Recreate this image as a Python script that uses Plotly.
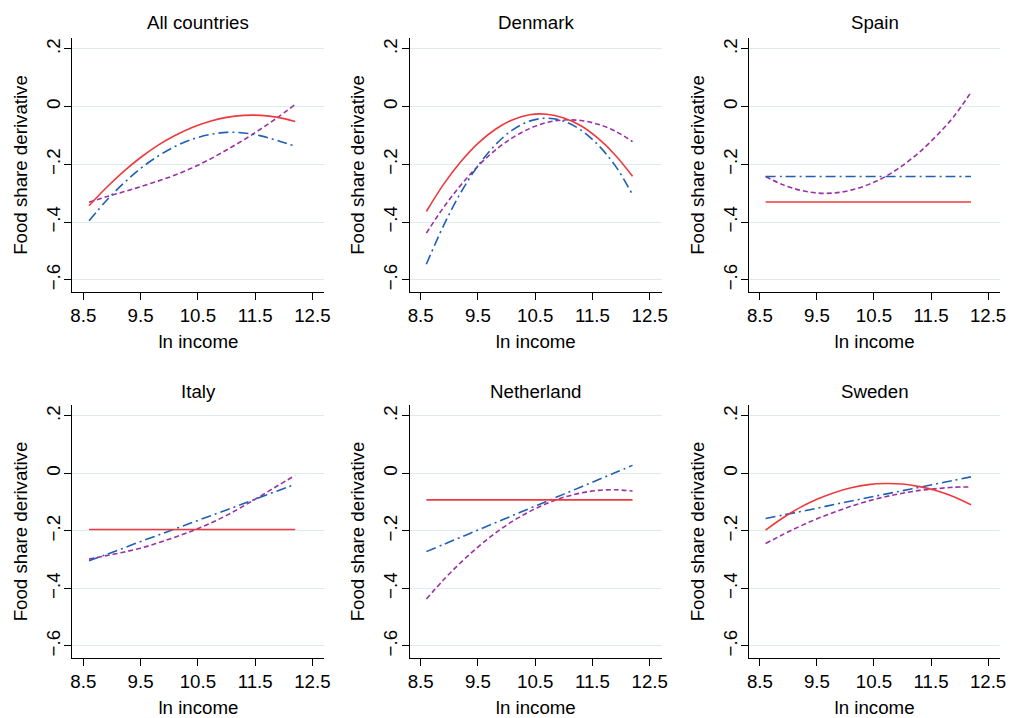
import plotly.graph_objects as go

# ---------------- data ----------------
income = [8.6, 8.9, 9.2, 9.5, 9.8, 10.1, 10.4, 10.7, 11.0, 11.3, 11.6, 11.9, 12.2]

countries = ["All countries", "Denmark", "Spain", "Italy", "Netherland", "Sweden"]

all_red = [-0.343, -0.281, -0.225, -0.176, -0.134, -0.100, -0.072, -0.051, -0.037, -0.030, -0.030, -0.037, -0.051]
all_blue = [-0.395, -0.326, -0.266, -0.214, -0.172, -0.138, -0.113, -0.097, -0.089, -0.091, -0.101, -0.118, -0.137]
all_purple = [-0.331, -0.312, -0.295, -0.277, -0.258, -0.237, -0.212, -0.183, -0.150, -0.115, -0.077, -0.036, 0.008]

den_red = [-0.363, -0.269, -0.191, -0.127, -0.079, -0.046, -0.028, -0.026, -0.039, -0.066, -0.110, -0.168, -0.241]
den_blue = [-0.546, -0.412, -0.298, -0.205, -0.133, -0.081, -0.050, -0.040, -0.050, -0.081, -0.133, -0.205, -0.305]
den_purple = [-0.438, -0.349, -0.272, -0.206, -0.151, -0.108, -0.076, -0.055, -0.046, -0.048, -0.061, -0.085, -0.121]

spa_red = [-0.330] * 13
spa_blue = [-0.242] * 13
spa_purple = [-0.242, -0.270, -0.289, -0.299, -0.299, -0.289, -0.270, -0.242, -0.204, -0.157, -0.100, -0.034, 0.050]

ita_red = [-0.195] * 13
ita_blue = [-0.304, -0.282, -0.260, -0.237, -0.215, -0.193, -0.171, -0.149, -0.127, -0.105, -0.082, -0.060, -0.038]
ita_purple = [-0.298, -0.286, -0.274, -0.260, -0.242, -0.222, -0.200, -0.175, -0.146, -0.113, -0.078, -0.042, -0.007]

net_red = [-0.092] * 13
net_blue = [-0.272, -0.247, -0.222, -0.197, -0.172, -0.147, -0.122, -0.097, -0.072, -0.047, -0.022, 0.003, 0.028]
net_purple = [-0.437, -0.370, -0.310, -0.256, -0.208, -0.167, -0.133, -0.105, -0.083, -0.068, -0.059, -0.057, -0.061]

swe_red = [-0.197, -0.155, -0.119, -0.090, -0.067, -0.050, -0.039, -0.035, -0.037, -0.046, -0.060, -0.081, -0.109]
swe_blue = [-0.157, -0.145, -0.133, -0.121, -0.108, -0.096, -0.084, -0.072, -0.060, -0.048, -0.036, -0.024, -0.012]
swe_purple = [-0.244, -0.213, -0.184, -0.158, -0.135, -0.114, -0.096, -0.081, -0.069, -0.059, -0.053, -0.048, -0.047]

panel_series = [
    (all_red, all_blue, all_purple),
    (den_red, den_blue, den_purple),
    (spa_red, spa_blue, spa_purple),
    (ita_red, ita_blue, ita_purple),
    (net_red, net_blue, net_purple),
    (swe_red, swe_blue, swe_purple),
]

x_tickvals = [8.5, 9.5, 10.5, 11.5, 12.5]
x_ticktext = ["8.5", "9.5", "10.5", "11.5", "12.5"]
y_tickvals = [0.2, 0.0, -0.2, -0.4, -0.6]
y_ticktext = [".2", "0", "\u2212.2", "\u2212.4", "\u2212.6"]

# ---------------- layout geometry ----------------
W, H = 1013, 718
col_px = [(71, 325), (411, 665), (753, 1006)]
row_px = [(38, 292), (405, 658)]
title_y_px = [23, 391]

FONT = "Liberation Sans, Arial, Helvetica, sans-serif"
FS = 18.7
RED = "#ee3a3f"
BLUE = "#2060b4"
PURPLE = "#9b2fa4"
GRID = "#dcecec"

fig = go.Figure()
layout = dict(
    width=W, height=H,
    margin=dict(l=0, r=0, t=0, b=0),
    paper_bgcolor="white", plot_bgcolor="white",
    showlegend=False,
    font=dict(family=FONT, size=FS, color="black"),
    annotations=[],
)

styles = [
    dict(color=RED, width=1.6, dash="solid"),
    dict(color=BLUE, width=1.6, dash="10px,4px,2px,4px"),
    dict(color=PURPLE, width=1.6, dash="5px,3px"),
]

for i, name in enumerate(countries):
    r, c = divmod(i, 3)
    idx = i + 1
    xa = "x" if idx == 1 else f"x{idx}"
    ya = "y" if idx == 1 else f"y{idx}"
    x0, x1 = col_px[c]
    y0, y1 = row_px[r]
    xdom = [x0 / W, x1 / W]
    ydom = [1 - y1 / H, 1 - y0 / H]

    # draw in order: purple, blue, red (red on top)
    for k in (2, 1, 0):
        fig.add_trace(go.Scatter(
            x=income, y=panel_series[i][k], mode="lines",
            line=dict(shape="spline", **styles[k]),
            xaxis=xa, yaxis=ya, hoverinfo="skip",
        ))

    layout["xaxis" if idx == 1 else f"xaxis{idx}"] = dict(
        domain=xdom, anchor=ya, range=[8.31, 12.71],
        tickvals=x_tickvals, ticktext=x_ticktext,
        showline=True, linecolor="black", linewidth=1,
        ticks="outside", ticklen=7, tickcolor="black",
        showgrid=False, zeroline=False,
        tickfont=dict(size=FS),
        title=dict(text="ln income", font=dict(size=FS), standoff=9),
    )
    layout["yaxis" if idx == 1 else f"yaxis{idx}"] = dict(
        domain=ydom, anchor=xa, range=[-0.642, 0.238],
        tickvals=y_tickvals, ticktext=y_ticktext, tickangle=-90,
        ticklabelstandoff=-3,
        showline=True, linecolor="black", linewidth=1,
        ticks="outside", ticklen=7, tickcolor="black",
        showgrid=True, gridcolor=GRID, gridwidth=1, zeroline=False,
        tickfont=dict(size=FS),
        title=dict(text="Food share derivative", font=dict(size=FS), standoff=10),
    )
    layout["annotations"].append(dict(
        text=name, xref="paper", yref="paper",
        x=(x0 + x1) / 2 / W, y=1 - title_y_px[r] / H,
        xanchor="center", yanchor="middle", showarrow=False,
        font=dict(size=FS, color="black"),
    ))

fig.update_layout(**layout)
fig.write_html("out.html")
